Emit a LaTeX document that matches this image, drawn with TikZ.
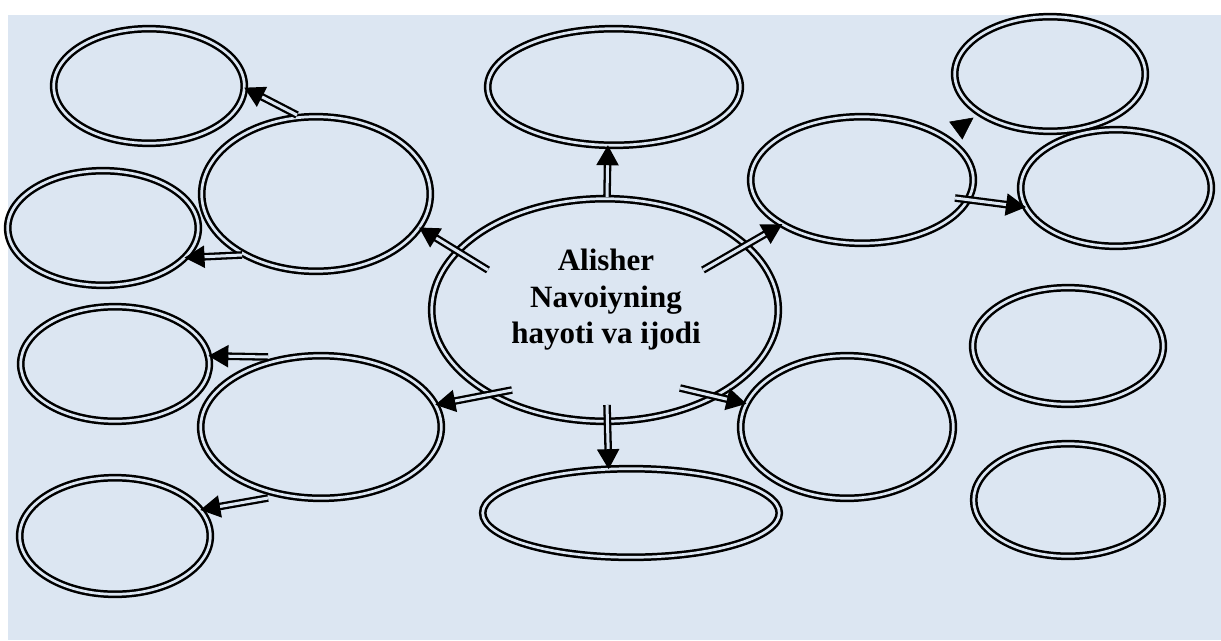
\documentclass[tikz,border=0pt]{standalone}
\usepackage{fontspec}
\setmainfont{Liberation Serif}
\usetikzlibrary{shapes.geometric,arrows.meta}
\definecolor{paper}{HTML}{DCE6F2}
\begin{document}
\begin{tikzpicture}[x=1pt,y=-1pt,
  bubble/.style={ellipse, draw, double=paper, double distance=2.7pt, line width=2.5pt, inner sep=0pt, outer sep=0pt},
  link/.style={draw, double=paper, double distance=3pt, line width=2.3pt, -{Triangle[length=20pt,width=22pt]}},
  headonly/.style={draw, line width=0.6pt, -{Triangle[length=22pt,width=22pt]}}]
\useasboundingbox (0,0) rectangle (1221,640);
\fill[paper] (8,15) rectangle (1221,640);

\node[bubble, minimum width=346.6pt, minimum height=222.6pt] (c) at (605,310) {};
\node[font=\bfseries\fontsize{31}{36.5}\selectfont, align=center] (title) at (606,300) {Alisher\\Navoiyning\\hayoti va ijodi};
\node[bubble, minimum width=190.6pt, minimum height=114.6pt] (b1) at (149,86) {};
\node[bubble, minimum width=228.6pt, minimum height=154.6pt] (b2) at (316,194) {};
\node[bubble, minimum width=190.6pt, minimum height=114.6pt] (b3) at (103,228) {};
\node[bubble, minimum width=188.6pt, minimum height=114.6pt] (b4) at (115,364) {};
\node[bubble, minimum width=240.6pt, minimum height=142.6pt] (b5) at (321,427) {};
\node[bubble, minimum width=190.6pt, minimum height=116.6pt] (b6) at (115,536) {};
\node[bubble, minimum width=252.6pt, minimum height=116.6pt] (b7) at (614,87) {};
\node[bubble, minimum width=296.6pt, minimum height=88.6pt] (b8) at (631,513) {};
\node[bubble, minimum width=222.6pt, minimum height=126.6pt] (b9) at (862,180) {};
\node[bubble, minimum width=190.6pt, minimum height=114.6pt] (b10) at (1050,74) {};
\node[bubble, minimum width=190.6pt, minimum height=116.6pt] (b11) at (1116,188) {};
\node[bubble, minimum width=212.6pt, minimum height=142.6pt] (b12) at (847,427) {};
\node[bubble, minimum width=190.6pt, minimum height=116.6pt] (b13) at (1068,346) {};
\node[bubble, minimum width=188.6pt, minimum height=112.6pt] (b14) at (1068,500) {};

% free ends of the arrows
\coordinate (t1) at (488,270);
\coordinate (t2) at (607,197);
\coordinate (t3) at (703,270);
\coordinate (t4) at (512,390);
\coordinate (t5) at (680,388);
\coordinate (t6) at (607,405);
\coordinate (t7) at (297,115);
\coordinate (t8) at (242,255);
\coordinate (t9) at (268,357);
\coordinate (t10) at (268,498);
\coordinate (t11) at (955,198);
\coordinate (t12) at (958,129);

\path[link] (t1) -- (b2.-18);
\path[link] (t2) -- (b7.-96);
\path[link] (t3) -- (b9.-151);
\path[link] (t4) -- (b5.11);
\path[link] (t5) -- (b12.167);
\path[link] (t6) -- (b8.117);
\path[link] (t7) -- (b1.-1);
\path[link] (t8) -- (b3.-20);
\path[link] (t9) -- (b4.5);
\path[link] (t10) -- (b6.17);
\path[link] (t11) -- (b11.-168);
\path[headonly, shorten >=8pt] (t12) -- (b10.-151);
\end{tikzpicture}
\end{document}
